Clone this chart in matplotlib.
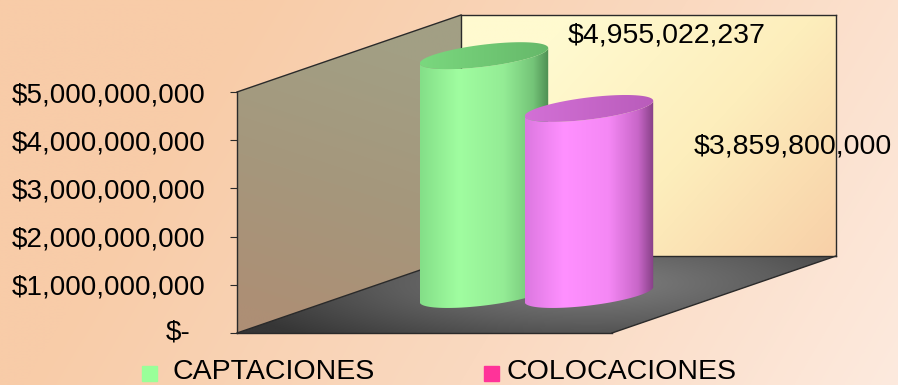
#!/usr/bin/env python3
# -*- coding: utf-8 -*-

import numpy as np
import matplotlib
matplotlib.use('Agg')
from matplotlib import pyplot as plt
from matplotlib.patches import Polygon, Rectangle
from matplotlib.colors import LinearSegmentedColormap

categories = ['CAPTACIONES', 'COLOCACIONES']
values = [4955022237, 3859800000]
ytick_values = [0, 1e9, 2e9, 3e9, 4e9, 5e9]
ytick_labels = ['$-', '$1,000,000,000', '$2,000,000,000', '$3,000,000,000',
                '$4,000,000,000', '$5,000,000,000']
legend_colors = ['#99ff99', '#ff3399']

# body shading (left -> right) and cap colour of each cylinder
body_stops = [
    [(0, '#84df88'), (0.3, '#a0fda0'), (0.65, '#94ec95'), (0.88, '#74c478'), (1, '#4f8f53')],
    [(0, '#dc78e0'), (0.3, '#ff90ff'), (0.65, '#f588f5'), (0.88, '#c866c8'), (1, '#874087')],
]
cap_stops = [
    [(0, '#7ad87e'), (1, '#66b86a')],
    [(0, '#d370d6'), (1, '#b95cbb')],
]
label_offsets = [(183, 20), (204, -38)]   # value label position, pixels from cylinder top

W, H, DPI = 898, 385, 100
DEPTH = np.array([224.0, 77.0])   # shift from front plane to back wall, pixels
BAR_W = 0.69
BAR_OFF = [-0.28, 0.28]
TILT = np.deg2rad(7)
ELL_B = 11.0

plt.rcParams['font.family'] = ['Liberation Sans', 'DejaVu Sans']

fig = plt.figure(figsize=(W / DPI, H / DPI), dpi=DPI)

# pixel canvas for background and the pseudo 3-D pieces
cv = fig.add_axes([0, 0, 1, 1])
cv.set_xlim(0, W)
cv.set_ylim(0, H)
cv.axis('off')

ax = fig.add_axes([237 / W, 52 / H, 375 / W, 241 / H])
ax.set_xlim(0, 2)
ax.set_ylim(0, 5e9)
ax.patch.set_visible(False)


def proj(x, v, d=0.0):
    return ax.transData.transform((x, v)) + d * DEPTH


def grad_fill(pts, stops, p0, p1, zorder, radial=None):
    pts = np.asarray(pts, dtype=float)
    x0, y0 = pts.min(0)
    x1, y1 = pts.max(0)
    nx, ny = int(x1 - x0) + 2, int(y1 - y0) + 2
    X, Y = np.meshgrid(np.linspace(x0, x1, nx), np.linspace(y0, y1, ny))
    if radial is None:
        d = np.subtract(p1, p0)
        t = ((X - p0[0]) * d[0] + (Y - p0[1]) * d[1]) / (d @ d)
    else:
        rx, ry = radial
        t = np.hypot((X - p0[0]) / rx, (Y - p0[1]) / ry)
    cmap = LinearSegmentedColormap.from_list('g', stops)
    im = cv.imshow(cmap(np.clip(t, 0, 1)), extent=(x0, x1, y0, y1), origin='lower',
                   zorder=zorder, interpolation='bilinear', aspect='auto')
    im.set_clip_path(Polygon(pts, closed=True, transform=cv.transData))


# figure background
grad_fill([(0, 0), (W, 0), (W, H), (0, H)], ['#f8cca8', '#fad9c0', '#fdeade'],
          (250, H), (W, 0), 0)

ymax = ytick_values[-1]
# walls and floor
left_wall = [proj(0, 0), proj(0, ymax), proj(0, ymax, 1), proj(0, 0, 1)]
grad_fill(left_wall, ['#a29f84', '#a5977c', '#ad8f75'],
          proj(0, ymax, 0.6), proj(0, 0, 0.2), 1)
back_wall = [proj(0, 0, 1), proj(2, 0, 1), proj(2, ymax, 1), proj(0, ymax, 1)]
grad_fill(back_wall, ['#fffad0', '#fdeebc', '#f8d0a8'],
          proj(0.6, ymax, 1), proj(2, 0, 1), 1)
floor = [proj(0, 0), proj(2, 0), proj(2, 0, 1), proj(0, 0, 1)]
grad_fill(floor, ['#808080', '#5e5e5e', '#363636'],
          proj(1.1, 0, 0.65), None, 1, radial=(380, 80))

edge = dict(color='#2a2a2a', lw=1.0, zorder=2)
for a, b in [(proj(0, 0, 1), proj(2, 0, 1)), (proj(2, 0, 1), proj(2, ymax, 1)),
             (proj(2, ymax, 1), proj(0, ymax, 1)), (proj(0, ymax, 1), proj(0, 0, 1)),
             (proj(0, ymax), proj(0, ymax, 1)), (proj(0, 0), proj(0, 0, 1)),
             (proj(2, 0), proj(2, 0, 1))]:
    cv.plot([a[0], b[0]], [a[1], b[1]], **edge)

# cylinders
rot = np.array([[np.cos(TILT), -np.sin(TILT)], [np.sin(TILT), np.cos(TILT)]])


def ellipse(c, a, t):
    pts = np.stack([a * np.cos(t), ELL_B * np.sin(t)])
    return (rot @ pts).T + c


for i, v in enumerate(values):
    xc = 1 + BAR_OFF[i]
    bot = proj(xc, 0, 0.5)
    top = proj(xc, v, 0.5)
    a = proj(xc + BAR_W / 2, 0)[0] - proj(xc, 0)[0]
    t = np.linspace(np.pi, 2 * np.pi, 80)
    body = np.vstack([ellipse(bot, a, t), ellipse(top, a, t[::-1])])
    grad_fill(body, body_stops[i], (bot[0] - a, bot[1]), (bot[0] + a, bot[1]), 3 + i)
    cap = ellipse(top, a, np.linspace(0, 2 * np.pi, 160))
    grad_fill(cap, cap_stops[i], (top[0] - a, top[1]), (top[0] + a, top[1]), 3 + i)
    cv.annotate(f'${v:,.0f}', xy=tuple(top), xytext=label_offsets[i],
                textcoords='offset pixels', ha='center', va='center',
                fontsize=20.5, color='black', annotation_clip=False, zorder=10)

# value axis
ax.set_yticks(ytick_values, labels=['' if tv == 0 else s for tv, s in zip(ytick_values, ytick_labels)])
ax.annotate(ytick_labels[0], xy=(0, 0), xycoords=('axes fraction', 'data'),
            xytext=(-47, 0), textcoords='offset pixels', ha='right', va='center',
            fontsize=20, annotation_clip=False)
ax.tick_params(axis='y', direction='out', length=5, width=0.8, pad=18,
               labelsize=20, color='#2a2a2a')
ax.tick_params(axis='x', bottom=False, labelbottom=False)
for side in ['top', 'right']:
    ax.spines[side].set_visible(False)
for side in ['left', 'bottom']:
    ax.spines[side].set_color('#2a2a2a')
    ax.spines[side].set_linewidth(1.0)

# legend
for x_sq, x_txt, name, col in zip([142, 484], [172, 506], categories, legend_colors):
    cv.add_patch(Rectangle((x_sq, 4), 15, 15, color=col, zorder=5))
    cv.text(x_txt, 0, name, fontsize=20.5, va='bottom', ha='left', zorder=5)

fig.savefig('out.png', dpi=DPI)
